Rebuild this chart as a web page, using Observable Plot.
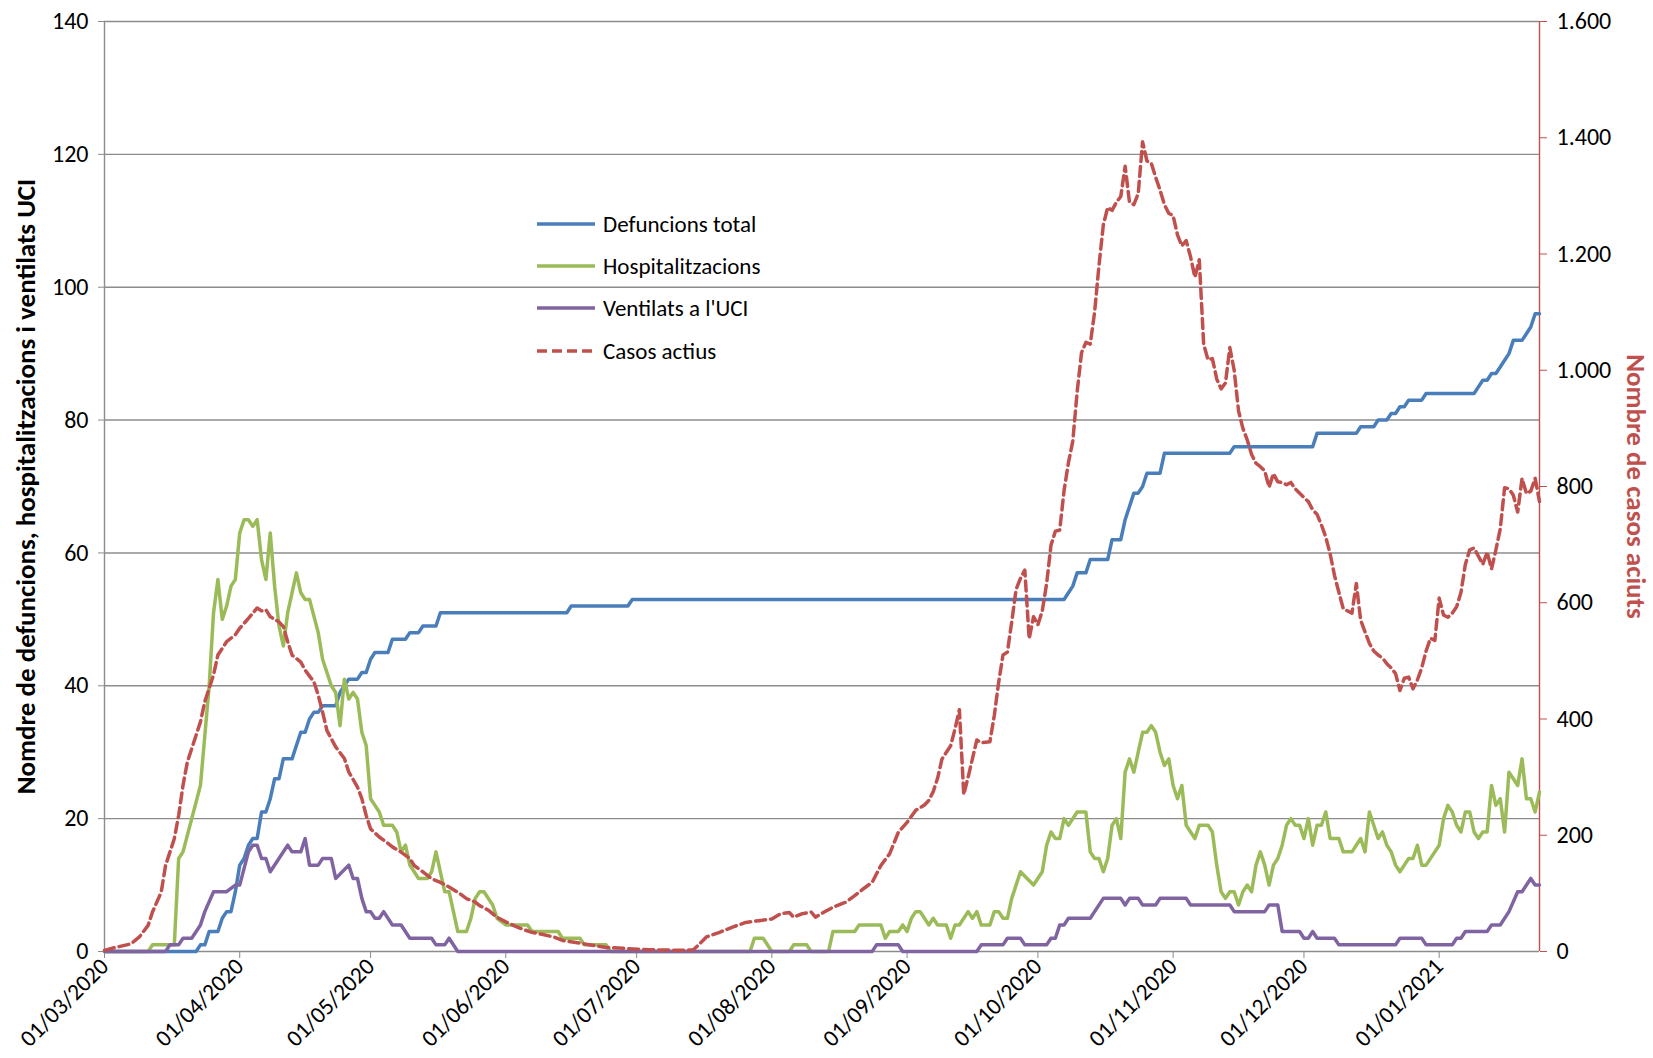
<!DOCTYPE html>
<html>
<head>
<meta charset="utf-8">
<script src="https://cdn.jsdelivr.net/npm/d3@7"></script>
<script src="https://cdn.jsdelivr.net/npm/@observablehq/plot@0.6"></script>
<style>
  html, body { margin: 0; padding: 0; background: #fff; }
  #wrap { position: relative; width: 1653px; height: 1058px; font-family: Carlito, Calibri, Lato, "Open Sans", sans-serif; }
  #legend { position: absolute; left: 537px; top: 203px; }
  .lg-row { display: flex; align-items: center; height: 42.2px; font-size: 23px; color: #000; }
  .lg-row svg { margin-right: 8px; }
</style>
</head>
<body>
<div id="wrap"><div id="legend"></div></div>
<script>
// ---------- DATA ----------
const seriesNames = ["Defuncions total", "Hospitalitzacions", "Ventilats a l'UCI", "Casos actius"];
const seriesColors = ["#4a7ebb", "#9bbb59", "#8064a2", "#c0504d"];

const leftTicks = [0, 20, 40, 60, 80, 100, 120, 140];
const rightTicks = [0, 200, 400, 600, 800, 1000, 1200, 1400, 1600];
const monthTicks = ["2020-03-01","2020-04-01","2020-05-01","2020-06-01","2020-07-01","2020-08-01","2020-09-01","2020-10-01","2020-11-01","2020-12-01","2021-01-01"];
const dateRange = ["2020-03-01", "2021-01-24"];

const leftTitle = "Nomdre de defuncions, hospitalitzacions i ventilats UCI";
const rightTitle = "Nombre de casos aciuts";

const defuncions = [
["2020-03-01",0],["2020-03-22",0],["2020-03-23",1],["2020-03-24",1],["2020-03-25",3],["2020-03-27",3],["2020-03-28",5],["2020-03-29",6],["2020-03-30",6],["2020-03-31",9],
["2020-04-01",13],["2020-04-02",14],["2020-04-03",16],["2020-04-04",17],["2020-04-05",17],["2020-04-06",21],["2020-04-07",21],["2020-04-08",23],["2020-04-09",26],["2020-04-10",26],
["2020-04-11",29],["2020-04-13",29],["2020-04-14",31],["2020-04-15",33],["2020-04-16",33],["2020-04-17",35],["2020-04-18",36],["2020-04-19",36],["2020-04-20",37],["2020-04-23",37],
["2020-04-24",39],["2020-04-25",40],["2020-04-26",41],["2020-04-28",41],["2020-04-29",42],["2020-04-30",42],["2020-05-01",44],["2020-05-02",45],["2020-05-05",45],["2020-05-06",47],
["2020-05-09",47],["2020-05-10",48],["2020-05-12",48],["2020-05-13",49],["2020-05-16",49],["2020-05-17",51],["2020-06-15",51],["2020-06-16",52],["2020-06-29",52],["2020-06-30",53],
["2020-10-07",53],["2020-10-08",54],["2020-10-09",55],["2020-10-10",57],["2020-10-12",57],["2020-10-13",59],["2020-10-17",59],["2020-10-18",62],["2020-10-20",62],["2020-10-21",65],
["2020-10-22",67],["2020-10-23",69],["2020-10-24",69],["2020-10-25",70],["2020-10-26",72],["2020-10-29",72],["2020-10-30",75],["2020-11-14",75],["2020-11-15",76],["2020-12-03",76],
["2020-12-04",78],["2020-12-13",78],["2020-12-14",79],["2020-12-17",79],["2020-12-18",80],["2020-12-20",80],["2020-12-21",81],["2020-12-22",81],["2020-12-23",82],["2020-12-24",82],
["2020-12-25",83],["2020-12-28",83],["2020-12-29",84],["2021-01-09",84],["2021-01-10",85],["2021-01-11",86],["2021-01-12",86],["2021-01-13",87],["2021-01-14",87],["2021-01-15",88],
["2021-01-16",89],["2021-01-17",90],["2021-01-18",92],["2021-01-20",92],["2021-01-21",93],["2021-01-22",94],["2021-01-23",96],["2021-01-24",96]
];

const hospitalitzacions = [
["2020-03-01",0],["2020-03-11",0],["2020-03-12",1],["2020-03-17",1],["2020-03-18",14],["2020-03-19",15],["2020-03-21",20],["2020-03-23",25],["2020-03-25",40],["2020-03-26",51],
["2020-03-27",56],["2020-03-28",50],["2020-03-29",52],["2020-03-30",55],["2020-03-31",56],["2020-04-01",63],["2020-04-02",65],["2020-04-03",65],["2020-04-04",64],["2020-04-05",65],
["2020-04-06",59],["2020-04-07",56],["2020-04-08",63],["2020-04-09",55],["2020-04-10",49],["2020-04-11",46],["2020-04-12",51],["2020-04-13",54],["2020-04-14",57],["2020-04-15",54],
["2020-04-16",53],["2020-04-17",53],["2020-04-19",48],["2020-04-20",44],["2020-04-21",42],["2020-04-22",40],["2020-04-23",39],["2020-04-24",34],["2020-04-25",41],["2020-04-26",38],
["2020-04-27",39],["2020-04-28",38],["2020-04-29",33],["2020-04-30",31],["2020-05-01",23],["2020-05-02",22],["2020-05-03",21],["2020-05-04",19],["2020-05-06",19],["2020-05-07",18],
["2020-05-08",15],["2020-05-09",16],["2020-05-10",13],["2020-05-11",12],["2020-05-12",11],["2020-05-14",11],["2020-05-15",12],["2020-05-16",15],["2020-05-17",12],["2020-05-18",9],
["2020-05-19",9],["2020-05-20",6],["2020-05-21",3],["2020-05-23",3],["2020-05-24",5],["2020-05-25",8],["2020-05-26",9],["2020-05-27",9],["2020-05-29",7],["2020-05-30",5],
["2020-06-01",4],["2020-06-06",4],["2020-06-07",3],["2020-06-13",3],["2020-06-14",2],["2020-06-18",2],["2020-06-19",1],["2020-06-24",1],["2020-06-25",0],["2020-07-27",0],
["2020-07-28",2],["2020-07-30",2],["2020-08-01",0],["2020-08-05",0],["2020-08-06",1],["2020-08-09",1],["2020-08-10",0],["2020-08-14",0],["2020-08-15",3],["2020-08-20",3],
["2020-08-21",4],["2020-08-26",4],["2020-08-27",2],["2020-08-28",3],["2020-08-30",3],["2020-08-31",4],["2020-09-01",3],["2020-09-02",5],["2020-09-03",6],["2020-09-04",6],
["2020-09-06",4],["2020-09-07",5],["2020-09-08",4],["2020-09-10",4],["2020-09-11",2],["2020-09-12",4],["2020-09-13",4],["2020-09-15",6],["2020-09-16",5],["2020-09-17",6],
["2020-09-18",4],["2020-09-20",4],["2020-09-21",6],["2020-09-22",6],["2020-09-23",5],["2020-09-24",5],["2020-09-25",8],["2020-09-27",12],["2020-09-30",10],["2020-10-02",12],
["2020-10-03",16],["2020-10-04",18],["2020-10-05",17],["2020-10-06",17],["2020-10-07",20],["2020-10-08",19],["2020-10-10",21],["2020-10-12",21],["2020-10-13",15],["2020-10-14",14],
["2020-10-15",14],["2020-10-16",12],["2020-10-17",14],["2020-10-18",19],["2020-10-19",20],["2020-10-20",17],["2020-10-21",27],["2020-10-22",29],["2020-10-23",27],["2020-10-24",30],
["2020-10-25",33],["2020-10-26",33],["2020-10-27",34],["2020-10-28",33],["2020-10-29",30],["2020-10-30",28],["2020-10-31",29],["2020-11-01",25],["2020-11-02",23],["2020-11-03",25],
["2020-11-04",19],["2020-11-05",18],["2020-11-06",17],["2020-11-07",19],["2020-11-09",19],["2020-11-10",18],["2020-11-11",13],["2020-11-12",9],["2020-11-13",8],["2020-11-14",9],
["2020-11-15",9],["2020-11-16",7],["2020-11-17",9],["2020-11-18",10],["2020-11-19",9],["2020-11-20",13],["2020-11-21",15],["2020-11-22",13],["2020-11-23",10],["2020-11-24",13],
["2020-11-25",14],["2020-11-26",16],["2020-11-27",19],["2020-11-28",20],["2020-11-29",19],["2020-11-30",19],["2020-12-01",17],["2020-12-02",20],["2020-12-03",16],["2020-12-04",19],
["2020-12-05",19],["2020-12-06",21],["2020-12-07",17],["2020-12-09",17],["2020-12-10",15],["2020-12-12",15],["2020-12-14",17],["2020-12-15",15],["2020-12-16",21],["2020-12-18",17],
["2020-12-19",18],["2020-12-20",16],["2020-12-21",15],["2020-12-22",13],["2020-12-23",12],["2020-12-24",13],["2020-12-25",14],["2020-12-26",14],["2020-12-27",16],["2020-12-28",13],
["2020-12-29",13],["2020-12-31",15],["2021-01-01",16],["2021-01-02",20],["2021-01-03",22],["2021-01-04",21],["2021-01-05",19],["2021-01-06",18],["2021-01-07",21],["2021-01-08",21],
["2021-01-09",18],["2021-01-10",17],["2021-01-11",18],["2021-01-12",18],["2021-01-13",25],["2021-01-14",22],["2021-01-15",23],["2021-01-16",18],["2021-01-17",27],["2021-01-18",26],
["2021-01-19",25],["2021-01-20",29],["2021-01-21",23],["2021-01-22",23],["2021-01-23",21],["2021-01-24",24]
];

const ventilats = [
["2020-03-01",0],["2020-03-15",0],["2020-03-16",1],["2020-03-18",1],["2020-03-19",2],["2020-03-21",2],["2020-03-23",4],["2020-03-24",6],["2020-03-26",9],["2020-03-29",9],
["2020-03-31",10],["2020-04-01",10],["2020-04-03",15],["2020-04-04",16],["2020-04-05",16],["2020-04-06",14],["2020-04-07",14],["2020-04-08",12],["2020-04-10",14],["2020-04-12",16],
["2020-04-13",15],["2020-04-15",15],["2020-04-16",17],["2020-04-17",13],["2020-04-19",13],["2020-04-20",14],["2020-04-22",14],["2020-04-23",11],["2020-04-26",13],["2020-04-27",11],
["2020-04-28",11],["2020-04-29",8],["2020-04-30",6],["2020-05-01",6],["2020-05-02",5],["2020-05-03",5],["2020-05-04",6],["2020-05-06",4],["2020-05-08",4],["2020-05-10",2],
["2020-05-15",2],["2020-05-16",1],["2020-05-18",1],["2020-05-19",2],["2020-05-21",0],["2020-08-24",0],["2020-08-25",1],["2020-08-30",1],["2020-08-31",0],["2020-09-17",0],
["2020-09-18",1],["2020-09-23",1],["2020-09-24",2],["2020-09-27",2],["2020-09-28",1],["2020-10-03",1],["2020-10-04",2],["2020-10-05",2],["2020-10-06",4],["2020-10-07",4],
["2020-10-08",5],["2020-10-13",5],["2020-10-14",6],["2020-10-16",8],["2020-10-20",8],["2020-10-21",7],["2020-10-22",8],["2020-10-24",8],["2020-10-25",7],["2020-10-28",7],
["2020-10-29",8],["2020-11-04",8],["2020-11-05",7],["2020-11-14",7],["2020-11-15",6],["2020-11-22",6],["2020-11-23",7],["2020-11-25",7],["2020-11-26",3],["2020-11-30",3],
["2020-12-01",2],["2020-12-02",2],["2020-12-03",3],["2020-12-04",2],["2020-12-08",2],["2020-12-09",1],["2020-12-22",1],["2020-12-23",2],["2020-12-28",2],["2020-12-29",1],
["2021-01-04",1],["2021-01-05",2],["2021-01-06",2],["2021-01-07",3],["2021-01-12",3],["2021-01-13",4],["2021-01-15",4],["2021-01-17",6],["2021-01-19",9],["2021-01-20",9],
["2021-01-22",11],["2021-01-23",10],["2021-01-24",10]
];

const casosActius = [
["2020-03-01",2],["2020-03-03",6],["2020-03-07",13],["2020-03-09",25],["2020-03-11",45],["2020-03-12",68],["2020-03-14",102],["2020-03-15",148],["2020-03-17",194],["2020-03-18",234],
["2020-03-19",286],["2020-03-20",326],["2020-03-21",349],["2020-03-23",395],["2020-03-24",430],["2020-03-26",476],["2020-03-27",510],["2020-03-29",533],["2020-03-31",545],["2020-04-01",556],
["2020-04-03",573],["2020-04-05",591],["2020-04-06",586],["2020-04-07",588],["2020-04-08",576],["2020-04-10",567],["2020-04-11",559],["2020-04-12",533],["2020-04-13",510],["2020-04-15",498],
["2020-04-16",484],["2020-04-18",464],["2020-04-19",441],["2020-04-20",412],["2020-04-21",380],["2020-04-23",352],["2020-04-25",332],["2020-04-26",309],["2020-04-28",283],["2020-04-29",263],
["2020-04-30",234],["2020-05-01",211],["2020-05-03",197],["2020-05-05",186],["2020-05-06",180],["2020-05-08",171],["2020-05-10",160],["2020-05-11",148],["2020-05-13",137],["2020-05-15",125],
["2020-05-17",119],["2020-05-19",111],["2020-05-21",102],["2020-05-23",91],["2020-05-25",85],["2020-05-26",79],["2020-05-28",71],["2020-05-30",59],["2020-06-01",51],["2020-06-03",44],
["2020-06-05",38],["2020-06-07",33],["2020-06-09",30],["2020-06-12",25],["2020-06-14",19],["2020-06-19",13],["2020-06-24",7],["2020-06-29",5],["2020-07-04",3],["2020-07-12",2],
["2020-07-14",3],["2020-07-15",10],["2020-07-17",25],["2020-07-20",33],["2020-07-23",42],["2020-07-26",50],["2020-07-29",53],["2020-08-01",56],["2020-08-03",65],["2020-08-05",67],
["2020-08-06",59],["2020-08-08",65],["2020-08-10",68],["2020-08-11",59],["2020-08-13",68],["2020-08-15",76],["2020-08-18",85],["2020-08-20",96],["2020-08-22",108],["2020-08-24",119],
["2020-08-26",148],["2020-08-28",168],["2020-08-30",205],["2020-09-01",222],["2020-09-03",243],["2020-09-05",252],["2020-09-06",260],["2020-09-07",275],["2020-09-08",298],["2020-09-09",331],
["2020-09-11",354],["2020-09-12",383],["2020-09-13",416],["2020-09-14",270],["2020-09-15",300],["2020-09-16",332],["2020-09-17",364],["2020-09-18",359],["2020-09-20",361],["2020-09-21",406],
["2020-09-22",463],["2020-09-23",510],["2020-09-24",515],["2020-09-25",567],["2020-09-26",623],["2020-09-27",642],["2020-09-28",656],["2020-09-29",538],["2020-09-30",576],["2020-10-01",562],
["2020-10-02",586],["2020-10-03",633],["2020-10-04",699],["2020-10-05",723],["2020-10-06",725],["2020-10-07",793],["2020-10-08",841],["2020-10-09",878],["2020-10-10",963],["2020-10-11",1030],
["2020-10-12",1048],["2020-10-13",1045],["2020-10-14",1100],["2020-10-15",1180],["2020-10-16",1250],["2020-10-17",1280],["2020-10-18",1275],["2020-10-19",1289],["2020-10-20",1299],["2020-10-21",1351],
["2020-10-22",1289],["2020-10-23",1285],["2020-10-24",1304],["2020-10-25",1393],["2020-10-26",1360],["2020-10-27",1356],["2020-10-28",1332],["2020-10-29",1310],["2020-10-30",1285],["2020-10-31",1270],
["2020-11-01",1266],["2020-11-02",1233],["2020-11-03",1214],["2020-11-04",1223],["2020-11-05",1195],["2020-11-06",1160],["2020-11-07",1190],["2020-11-08",1045],["2020-11-09",1018],["2020-11-10",1020],
["2020-11-11",985],["2020-11-12",968],["2020-11-13",978],["2020-11-14",1039],["2020-11-15",1000],["2020-11-16",930],["2020-11-17",900],["2020-11-18",880],["2020-11-19",855],["2020-11-20",840],
["2020-11-21",834],["2020-11-22",827],["2020-11-23",799],["2020-11-24",822],["2020-11-25",808],["2020-11-26",807],["2020-11-27",803],["2020-11-28",807],["2020-11-29",796],["2020-12-01",781],
["2020-12-02",774],["2020-12-03",760],["2020-12-04",752],["2020-12-05",734],["2020-12-06",713],["2020-12-07",684],["2020-12-08",647],["2020-12-09",618],["2020-12-10",590],["2020-12-12",582],
["2020-12-13",633],["2020-12-14",570],["2020-12-15",550],["2020-12-16",530],["2020-12-17",517],["2020-12-18",510],["2020-12-19",505],["2020-12-20",495],["2020-12-21",488],["2020-12-22",478],
["2020-12-23",449],["2020-12-24",470],["2020-12-25",472],["2020-12-26",452],["2020-12-27",467],["2020-12-28",488],["2020-12-29",517],["2020-12-30",539],["2020-12-31",535],["2021-01-01",608],
["2021-01-02",579],["2021-01-03",575],["2021-01-04",582],["2021-01-05",593],["2021-01-06",618],["2021-01-07",666],["2021-01-08",691],["2021-01-09",694],["2021-01-10",680],["2021-01-11",666],
["2021-01-12",687],["2021-01-13",658],["2021-01-14",691],["2021-01-15",727],["2021-01-16",798],["2021-01-17",796],["2021-01-18",785],["2021-01-19",756],["2021-01-20",814],["2021-01-21",788],
["2021-01-22",792],["2021-01-23",814],["2021-01-24",774]
];

// ---------- CHART ----------
const leftMax = leftTicks[leftTicks.length - 1];
const rightMax = rightTicks[rightTicks.length - 1];
const k = leftMax / rightMax; // right-axis value -> left-axis units

const toRows = (arr) => arr.map(([d, v]) => ({date: new Date(d), value: v}));
const dDef = toRows(defuncions);
const dHosp = toRows(hospitalitzacions);
const dVent = toRows(ventilats);
const dCas = toRows(casosActius);
const xDomain = dateRange.map(d => new Date(d));

const locale = d3.formatLocale({decimal: ",", thousands: ".", grouping: [3], currency: ["", "€"]});
const fmtRight = locale.format(",d");
const fmtDate = d3.utcFormat("%d/%m/%Y");

const gridColor = "#8c8c8c";
const fontFamily = "Carlito, Calibri, Lato, 'Open Sans', sans-serif";
const lw = 3.5;

const chart = Plot.plot({
  width: 1653,
  height: 1058,
  marginLeft: 104,
  marginRight: 114,
  marginTop: 21,
  marginBottom: 107,
  style: {fontFamily, fontSize: "24px", background: "white", color: "black"},
  x: {type: "utc", domain: xDomain},
  y: {domain: [0, leftMax]},
  marks: [
    Plot.gridY(leftTicks.filter(t => t > 0), {stroke: gridColor, strokeOpacity: 1, strokeWidth: 1.4}),
    Plot.ruleY([0], {stroke: gridColor, strokeWidth: 1.4}),
    Plot.ruleX([xDomain[0]], {stroke: gridColor, strokeWidth: 1.4}),
    Plot.ruleX([xDomain[1]], {stroke: seriesColors[3], strokeWidth: 1.4}),
    Plot.axisY({anchor: "left", ticks: leftTicks, tickSize: 6, tickPadding: 10, stroke: gridColor, fill: "black", label: null, fontSize: 24, tickFormat: d => String(d)}),
    Plot.axisY({anchor: "right", ticks: rightTicks.map(v => v * k), tickSize: 7, tickPadding: 10, stroke: seriesColors[3], fill: "black", label: null, fontSize: 24, tickFormat: d => fmtRight(Math.round(d / k))}),
    Plot.axisX({anchor: "bottom", ticks: monthTicks.map(d => new Date(d)), tickSize: 7, tickPadding: 4, tickRotate: -45, stroke: gridColor, fill: "black", label: null, fontSize: 23.5, tickFormat: fmtDate}),
    Plot.line(dDef, {x: "date", y: "value", stroke: seriesColors[0], strokeWidth: lw, strokeLinejoin: "round"}),
    Plot.line(dHosp, {x: "date", y: "value", stroke: seriesColors[1], strokeWidth: lw, strokeLinejoin: "round"}),
    Plot.line(dVent, {x: "date", y: "value", stroke: seriesColors[2], strokeWidth: lw, strokeLinejoin: "round"}),
    Plot.line(dCas, {x: "date", y: d => d.value * k, stroke: seriesColors[3], strokeWidth: lw, strokeDasharray: "10,5", strokeLinejoin: "round"}),
    Plot.text([leftTitle], {text: d => d, frameAnchor: "left", textAnchor: "middle", lineAnchor: "middle", rotate: -90, dx: -78, fontWeight: "bold", fontSize: 27, fill: "black"}),
    Plot.text([rightTitle], {text: d => d, frameAnchor: "right", textAnchor: "middle", lineAnchor: "middle", rotate: 90, dx: 96, fontWeight: "bold", fontSize: 27, fill: seriesColors[3]})
  ]
});

const wrap = document.getElementById("wrap");
wrap.insertBefore(chart, wrap.firstChild);

// legend (inside plot area, as in the reference)
const legend = document.getElementById("legend");
seriesNames.forEach((name, i) => {
  const row = document.createElement("div");
  row.className = "lg-row";
  const dash = i === 3 ? 'stroke-dasharray="10,5"' : "";
  row.innerHTML = `<svg width="58" height="6"><line x1="0" y1="3" x2="58" y2="3" stroke="${seriesColors[i]}" stroke-width="3.5" ${dash}/></svg><span>${name}</span>`;
  legend.appendChild(row);
});
</script>
</body>
</html>
